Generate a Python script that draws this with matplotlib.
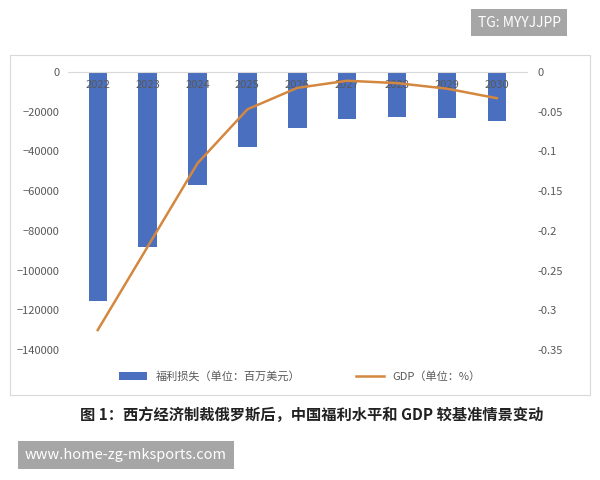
import matplotlib.pyplot as plt
from matplotlib.patches import Rectangle

plt.rcParams['font.family'] = ['Noto Sans CJK SC', 'DejaVu Sans']

years = ['2022', '2023', '2024', '2025', '2026', '2027', '2028', '2029', '2030']
welfare_loss = [-115500, -88000, -57000, -38000, -28000, -23500, -22500, -23000, -24500]
gdp = [-0.325, -0.22, -0.115, -0.047, -0.02, -0.011, -0.014, -0.021, -0.033]

fig = plt.figure(figsize=(6, 4.8), dpi=100)
fig.patches.append(Rectangle((0.017, 0.177), 0.966, 0.708, transform=fig.transFigure,
                             fill=False, edgecolor='#d9d9d9', linewidth=0.8))

ax = fig.add_axes([0.113, 0.271, 0.765, 0.579])
x = range(len(years))
bars = ax.bar(x, welfare_loss, width=0.37, color='#4a6fbf', label='福利损失（单位：百万美元）')
ax.set_ylim(-140000, 0)
ax.set_yticks(range(-140000, 1, 20000))
ax.set_xticks(list(x))
ax.set_xticklabels(years, color='#595959', fontsize=8)
ax.spines['bottom'].set_position(('data', 0))
ax.spines['bottom'].set_color('#d9d9d9')
for s in ['top', 'left', 'right']:
    ax.spines[s].set_visible(False)
ax.tick_params(axis='both', length=0, labelsize=8, colors='#595959', pad=6)
ax.set_xlim(-0.6, len(years) - 0.4)

ax2 = ax.twinx()
line, = ax2.plot(x, gdp, color='#d4873f', linewidth=1.8, label='GDP（单位：%）')
ax2.set_ylim(-0.35, 0)
ax2.set_yticks([0, -0.05, -0.1, -0.15, -0.2, -0.25, -0.3, -0.35])
ax2.set_yticklabels(['0', '-0.05', '-0.1', '-0.15', '-0.2', '-0.25', '-0.3', '-0.35'])
for s in ['top', 'left', 'right', 'bottom']:
    ax2.spines[s].set_visible(False)
ax2.tick_params(axis='y', length=0, labelsize=8, colors='#595959', pad=8)

fig.legend(handles=[bars, line], loc='center', bbox_to_anchor=(0.5, 0.215), ncol=2,
           frameon=False, fontsize=8, labelcolor='#595959', columnspacing=5, handlelength=2.5)

fig.text(0.52, 0.135, '图 1：西方经济制裁俄罗斯后，中国福利水平和 GDP 较基准情景变动',
         ha='center', va='center', fontsize=11, fontweight='bold', color='#222222')

fig.text(0.865, 0.953, 'TG: MYYJJPP', ha='center', va='center', fontsize=10, color='white',
         bbox=dict(boxstyle='square,pad=0.45', facecolor='#a6a6a6', edgecolor='none'))
fig.text(0.21, 0.052, 'www.home-zg-mksports.com', ha='center', va='center', fontsize=10.5,
         color='white', bbox=dict(boxstyle='square,pad=0.45', facecolor='#a6a6a6', edgecolor='none'))

fig.savefig('out.png', dpi=100)
